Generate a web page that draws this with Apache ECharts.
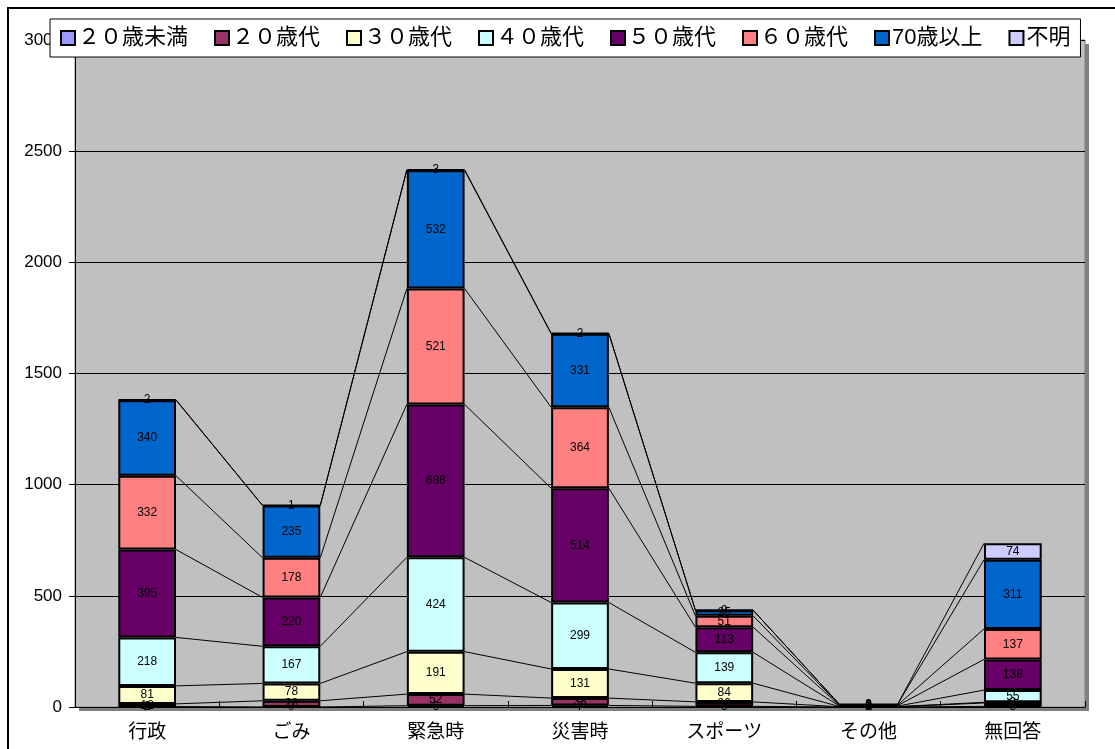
<!DOCTYPE html>
<html><head><meta charset="utf-8">
<script src="https://cdn.jsdelivr.net/npm/echarts@6/dist/echarts.min.js"></script>
<style>html,body{margin:0;padding:0;background:#fff}#c{width:1115px;height:749px}</style>
</head><body><div id="c"></div>
<script>
var categories = ['行政','ごみ','緊急時','災害時','スポーツ','その他','無回答'];
var seriesNames = ['２０歳未満','２０歳代','３０歳代','４０歳代','５０歳代','６０歳代','70歳以上','不明'];
var under20 = [2, 0, 6, 7, 3, 0, 3];
var age20s  = [12, 28, 52, 33, 20, 1, 15];
var age30s  = [81, 78, 191, 131, 84, 1, 3];
var age40s  = [218, 167, 424, 299, 139, 2, 55];
var age50s  = [395, 220, 688, 514, 113, 2, 138];
var age60s  = [332, 178, 521, 364, 51, 2, 137];
var age70p  = [340, 235, 532, 331, 25, 3, 311];
var unknown = [2, 1, 3, 2, 0, 0, 74];
var yTicks = [0, 500, 1000, 1500, 2000, 2500, 3000];
</script>
<script>
var allData = [under20, age20s, age30s, age40s, age50s, age60s, age70p, unknown];
var colors = ['#9999FF','#993366','#FFFFCC','#CCFFFF','#660066','#FF8080','#0066CC','#CCCCFF'];
var BW = 0.4;
var chart = echarts.init(document.getElementById('c'));
var series = seriesNames.map(function(n, k){
  return {
    name: n, type: 'bar', stack: 'a', barWidth: (BW*100)+'%',
    data: allData[k],
    itemStyle: {color: colors[k], borderColor: '#000', borderWidth: 2},
    label: {show: true, position: 'inside', color: '#000', fontSize: 12,
      fontFamily: 'Liberation Sans', formatter: function(p){ return p.value; }},
    z: 3
  };
});
series.push({
  type: 'custom', silent: true, z: 2,
  data: categories.slice(0, -1).map(function(c, i){ return [i]; }),
  encode: {x: 0},
  renderItem: function(params, api){
    var i = api.value(0);
    var bw = api.size([1, 0])[0] * BW;
    var children = [];
    var c1 = 0, c2 = 0;
    allData.forEach(function(arr){
      c1 += arr[i]; c2 += arr[i+1];
      var p1 = api.coord([i, c1]), p2 = api.coord([i+1, c2]);
      children.push({type: 'line', shape: {x1: p1[0] + bw/2, y1: p1[1], x2: p2[0] - bw/2, y2: p2[1]},
        style: {stroke: '#000', lineWidth: 1}});
    });
    return {type: 'group', children: children};
  }
});
chart.setOption({
  animation: false,
  backgroundColor: '#fff',
  graphic: [
    {type: 'rect', z: -100, shape: {x: 8, y: 8, width: 1120, height: 760}, style: {fill: 'none', stroke: '#000', lineWidth: 2}},
    {type: 'rect', z: -100, shape: {x: 79, y: 44, width: 1010, height: 667}, style: {fill: '#808080'}}
  ],
  grid: {left: 75, right: 30, top: 40, bottom: 42, show: true, backgroundColor: '#C0C0C0', borderColor: '#808080', borderWidth: 1},
  legend: {
    data: seriesNames, left: 50, top: 19, width: 1040,
    backgroundColor: '#fff', borderColor: '#000', borderWidth: 1,
    padding: [8, 10], itemGap: 26, itemWidth: 14, itemHeight: 14, icon: 'rect',
    textStyle: {fontSize: 22, color: '#000', fontFamily: "'Liberation Sans','Noto Sans CJK JP'", padding: [0,0,0,-2]},
    z: 10
  },
  xAxis: {
    type: 'category', data: categories,
    axisLine: {lineStyle: {color: '#000', width: 1}},
    axisTick: {show: true, inside: true, length: 6, lineStyle: {color: '#000'}},
    axisLabel: {fontSize: 19, color: '#000', margin: 14, fontFamily: "'Noto Sans CJK JP'"}
  },
  yAxis: {
    type: 'value', min: yTicks[0], max: yTicks[yTicks.length-1], interval: yTicks[1]-yTicks[0],
    axisLine: {show: true, lineStyle: {color: '#000'}},
    axisTick: {show: true, length: 6, lineStyle: {color: '#000'}},
    axisLabel: {fontSize: 17, color: '#000', margin: 13, fontFamily: 'Liberation Sans',
      formatter: function(v){ return String(v); }},
    splitLine: {lineStyle: {color: '#000', width: 1}}
  },
  series: series
});
</script>
</body></html>
